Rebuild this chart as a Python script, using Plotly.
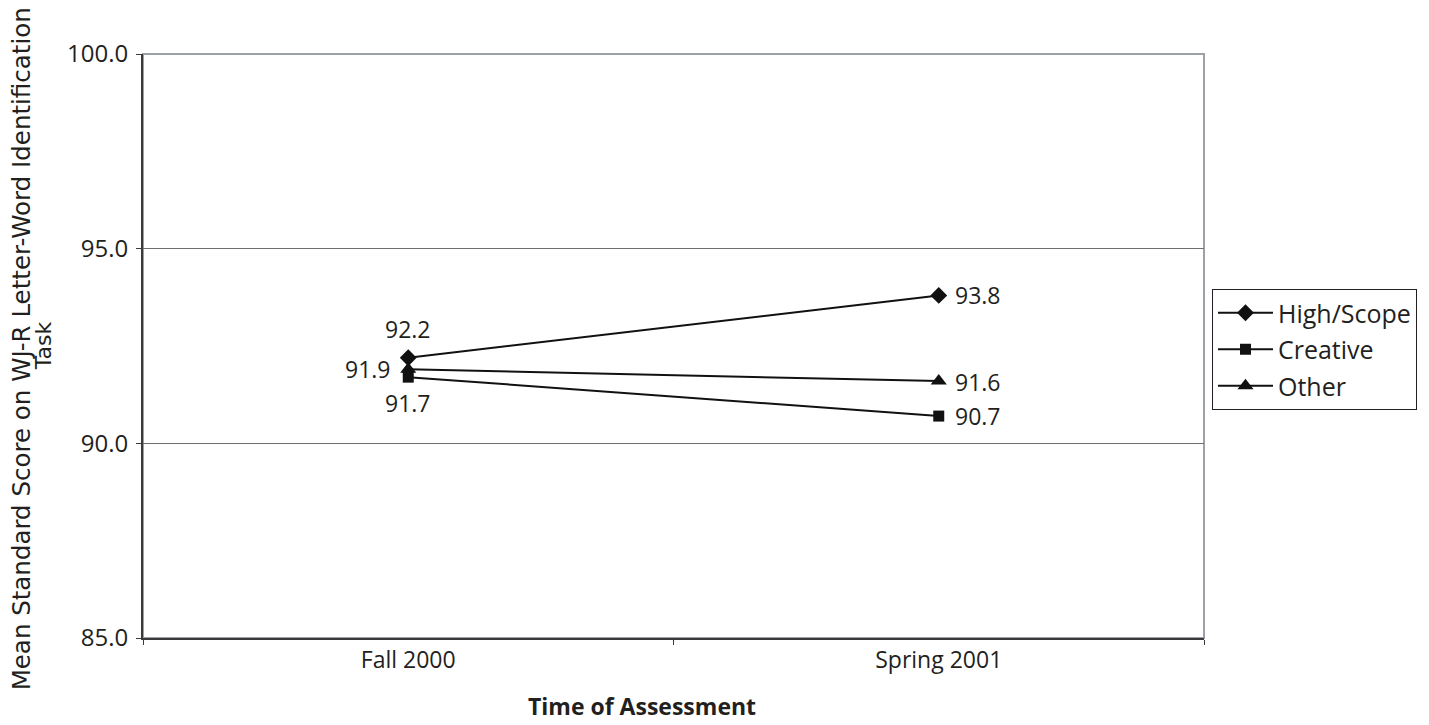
import plotly.graph_objects as go

categories = ["Fall 2000", "Spring 2001"]
high_scope = [92.2, 93.8]
creative = [91.7, 90.7]
other = [91.9, 91.6]
y_ticks = [85.0, 90.0, 95.0, 100.0]

FONT = "Open Sans, sans-serif"
TXT = "#231f20"
PL, PT, PW, PH = 143, 54, 1064, 584  # plot area in page pixels (for annotations)


def px_x(p):
    return (p - PL) / PW


def px_y(p):
    return (PT + PH - p) / PH


fig = go.Figure()

# (name, values, marker symbol, marker size, label placement per point: (xanchor, xshift, yshift))
series = [
    ("High/Scope", high_scope, "diamond", 13, [("center", 0, 29), ("left", 14, 0)]),
    ("Creative", creative, "square", 11, [("center", 0, -26), ("left", 14, 0)]),
    ("Other", other, "triangle-up", 14, [("right", -15, 0), ("left", 14, -1)]),
]
for name, vals, sym, size, lab in series:
    fig.add_trace(go.Scatter(
        x=categories, y=vals, name=name, legendgroup=name,
        mode="lines+markers",
        line=dict(color="#111111", width=2),
        marker=dict(symbol=sym, size=size, color="#111111"),
        cliponaxis=False,
    ))
    for cat, v, (xa, xs, ys) in zip(categories, vals, lab):
        fig.add_annotation(x=cat, y=v, xref="x", yref="y", text=f"{v:.1f}",
                           showarrow=False, xanchor=xa, yanchor="middle",
                           xshift=xs, yshift=ys,
                           font=dict(family=FONT, size=23, color=TXT))

fig.add_shape(type="rect", xref="paper", yref="paper", x0=0, x1=1, y0=0, y1=1,
              line=dict(color="#9ba1a7", width=2), layer="below")

# y-axis title (two lines, tight spacing as in reference)
fig.add_annotation(text="Mean Standard Score on WJ-R Letter-Word Identification",
                   xref="paper", yref="paper", x=px_x(21), y=px_y(349),
                   xanchor="center", yanchor="middle", textangle=-90, showarrow=False,
                   font=dict(family="DejaVu Sans, sans-serif", size=24.5, color=TXT))
fig.add_annotation(text="Task",
                   xref="paper", yref="paper", x=px_x(43), y=px_y(346),
                   xanchor="center", yanchor="middle", textangle=-90, showarrow=False,
                   font=dict(family="DejaVu Sans, sans-serif", size=22, color=TXT))
# x-axis title
fig.add_annotation(text="<b>Time of Assessment</b>",
                   xref="paper", yref="paper", x=px_x(643), y=px_y(706),
                   xanchor="center", yanchor="middle", showarrow=False,
                   font=dict(family=FONT, size=23, color=TXT))

fig.update_layout(
    width=1421, height=717,
    margin=dict(l=135, r=222, t=46, b=87),
    paper_bgcolor="white", plot_bgcolor="white",
    font=dict(family=FONT, size=23, color=TXT),
    showlegend=True,
    legend=dict(
        x=px_x(1215), y=px_y(289), xanchor="left", yanchor="top",
        bordercolor="#231f20", borderwidth=1,
        font=dict(family=FONT, size=25, color=TXT),
        itemwidth=55, tracegroupgap=1,
    ),
    xaxis=dict(
        type="category", range=[-0.5, 1.5],
        showline=True, linecolor="#3a3a3a", linewidth=2,
        ticks="outside", tickson="boundaries", ticklen=5, tickcolor="#3a3a3a",
        showgrid=False, zeroline=False,
        tickfont=dict(family=FONT, size=23, color=TXT),
    ),
    yaxis=dict(
        range=[85, 100], tickvals=y_ticks,
        ticktext=[f"{v:.1f}" for v in y_ticks],
        showline=True, linecolor="#3a3a3a", linewidth=2,
        ticks="outside", ticklen=5, tickcolor="#3a3a3a",
        ticklabelstandoff=3,
        showgrid=True, gridcolor="#6d6e71", gridwidth=1,
        zeroline=False,
        tickfont=dict(family=FONT, size=24, color=TXT),
    ),
)

fig.write_html("out.html")
